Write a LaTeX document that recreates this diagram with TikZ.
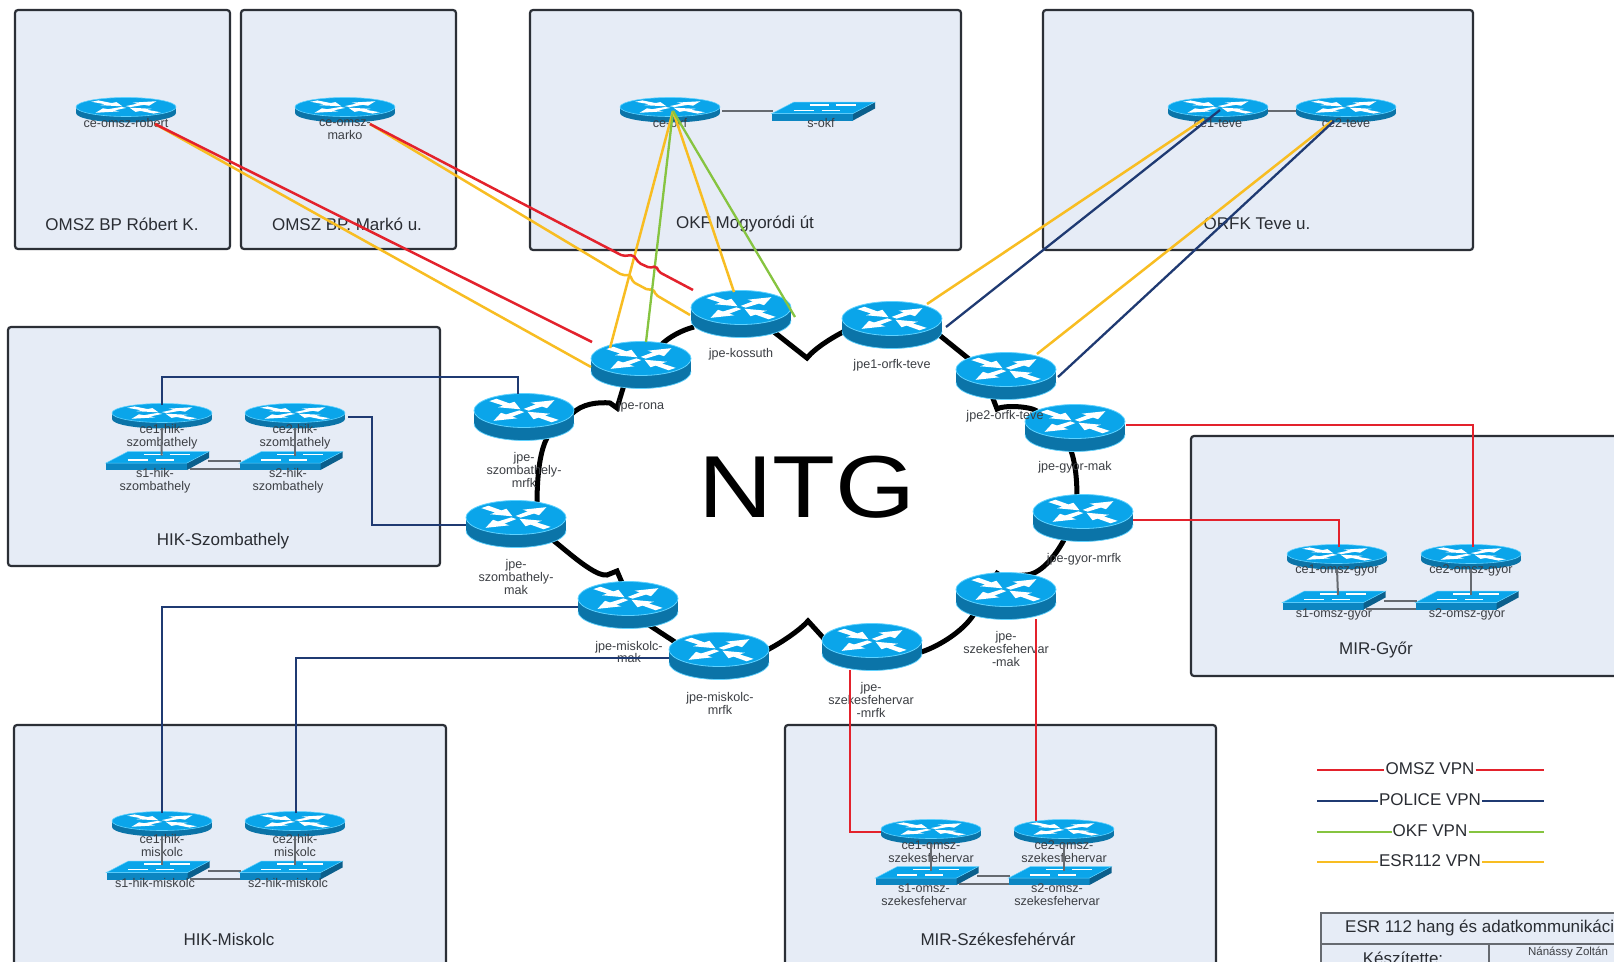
\documentclass[tikz,border=0pt]{standalone}
\usepackage{fontspec}
\usepackage{graphicx}
\setmainfont{Liberation Sans}
\definecolor{boxfill}{HTML}{E6ECF6}
\definecolor{boxline}{HTML}{2B2F36}
\definecolor{rtop}{HTML}{0AA5EA}
\definecolor{rside}{HTML}{0B74A8}
\definecolor{rrim}{HTML}{5FD2FF}
\definecolor{sside}{HTML}{0B5F8C}
\definecolor{sfront}{HTML}{0C86C2}
\definecolor{vred}{HTML}{E3222C}
\definecolor{vnavy}{HTML}{1F3A72}
\definecolor{vgreen}{HTML}{86C440}
\definecolor{vorange}{HTML}{F8BD22}
\definecolor{glink}{HTML}{666A70}
\definecolor{ltxt}{HTML}{3C3F44}
\definecolor{ttxt}{HTML}{2A2D33}
\newcommand{\rtarrows}{%
  \fill[white] (0.06,-0.07) -- (0.42,-0.09) -- (0.42,-0.23) -- (0.86,0) -- (0.42,0.23) -- (0.42,0.09) -- (0.06,0.07) -- cycle;}
\newcommand{\rtarrowsin}{%
  \fill[white] (0.88,-0.1) -- (0.5,-0.09) -- (0.5,-0.23) -- (0.1,0) -- (0.5,0.23) -- (0.5,0.09) -- (0.88,0.1) -- cycle;}
\newcommand{\rtallarrows}{%
  \begin{scope}[rotate=45]\rtarrows\end{scope}
  \begin{scope}[rotate=225]\rtarrows\end{scope}
  \begin{scope}[rotate=135]\rtarrowsin\end{scope}
  \begin{scope}[rotate=-45]\rtarrowsin\end{scope}}
\newcommand{\at}[3]{([shift={(#2,#3)}]#1.center)}
\tikzset{
  x=1pt,y=-1pt,
  bigbase/.style={minimum width=100pt,minimum height=47pt,inner sep=0pt},
  smallbase/.style={minimum width=100pt,minimum height=25pt,inner sep=0pt},
  swbase/.style={minimum width=103pt,minimum height=19pt,inner sep=0pt},
  bigrouter/.pic={
    \fill[rside] (0,6.5) ellipse [x radius=50,y radius=17];
    \fill[rside] (-50,-6.5) rectangle (50,6.5);
    \draw[rrim,line width=0.7pt] (-50,6.5) arc [start angle=180,end angle=0,x radius=50,y radius=17];
    \fill[rtop] (0,-6.5) ellipse [x radius=50,y radius=17];
    \draw[rrim,line width=0.8pt] (0,-6.5) ellipse [x radius=50,y radius=17];
    \begin{scope}[shift={(0,-6.5)},xscale=50,yscale=17]\rtallarrows\end{scope}
  },
  smallrouter/.pic={
    \fill[rside] (0,3) ellipse [x radius=50,y radius=9.5];
    \fill[rside] (-50,-3) rectangle (50,3);
    \fill[rtop] (0,-3) ellipse [x radius=50,y radius=9.5];
    \draw[rrim,line width=0.6pt] (0,-3) ellipse [x radius=50,y radius=9.5];
    \begin{scope}[shift={(0,-3)},xscale=50,yscale=9.5]\rtallarrows\end{scope}
  },
  switchicon/.pic={
    \fill[sfront] (-51.5,2.5) -- (29.5,2.5) -- (29.5,9.5) -- (-51.5,9.5) -- cycle;
    \fill[sside] (29.5,2.5) -- (51.5,-9) -- (51.5,-2.5) -- (29.5,9.5) -- cycle;
    \fill[rtop] (-51.5,2.5) -- (29.5,2.5) -- (51.5,-9) -- (-29.5,-9) -- cycle;
    \draw[rrim,line width=0.5pt] (-51.5,2.5) -- (29.5,2.5) -- (51.5,-9) -- (-29.5,-9) -- cycle;
    \draw[white,line width=1.5pt] (-14,-6) -- (5,-6) (12,-6) -- (32,-6) (-30,-0.5) -- (-10,-0.5) (-2,-0.5) -- (16,-0.5);
  },
  sitebox/.style={draw=boxline,fill=boxfill,line width=2.2pt,rounded corners=3pt},
  lbl/.style={font=\fontsize{12.6}{12.9}\selectfont,text=ltxt,align=center,inner sep=0pt},
  ttl/.style={font=\fontsize{17}{20}\selectfont,text=ttxt,inner sep=0pt},
  lgd/.style={font=\fontsize{17}{20}\selectfont,text=ttxt,inner sep=1pt},
  ring/.style={draw=black,line width=5pt},
  vpnred/.style={draw=vred,line width=2.5pt},
  vpnnavy/.style={draw=vnavy,line width=2.3pt},
  vpngreen/.style={draw=vgreen,line width=2.3pt},
  vpnorange/.style={draw=vorange,line width=2.5pt},
  graylink/.style={draw=glink,line width=2pt},
}
\begin{document}
\begin{tikzpicture}
\useasboundingbox (0,0) rectangle (1614,961);
\clip (0,0) rectangle (1614,961);
\fill[white] (0,0) rectangle (1614,961);
% site boxes
\node[sitebox,minimum width=215pt,minimum height=239pt] (bxrobert) at (122.5,129.5) {};
\node[sitebox,minimum width=215pt,minimum height=239pt] (bxmarko) at (348.5,129.5) {};
\node[sitebox,minimum width=431pt,minimum height=240pt] (bxokf) at (745.5,130) {};
\node[sitebox,minimum width=430pt,minimum height=240pt] (bxorfk) at (1258,130) {};
\node[sitebox,minimum width=432pt,minimum height=239pt] (bxhiksz) at (224,446.5) {};
\node[sitebox,minimum width=432pt,minimum height=240pt] (bxgyor) at (1407,556) {};
\node[sitebox,minimum width=432pt,minimum height=260pt] (bxhikmis) at (230,855) {};
\node[sitebox,minimum width=431pt,minimum height=260pt] (bxszek) at (1000.5,855) {};
% router and switch nodes
\node[bigbase] (kossuth) at (741,314) {};
\node[bigbase] (rona) at (641,365) {};
\node[bigbase] (szmrfk) at (524,417) {};
\node[bigbase] (szmak) at (516,524) {};
\node[bigbase] (mismak) at (628,605) {};
\node[bigbase] (mismrfk) at (719,656) {};
\node[bigbase] (szekmrfk) at (872,647) {};
\node[bigbase] (szekmak) at (1006,596) {};
\node[bigbase] (gymrfk) at (1083,518) {};
\node[bigbase] (gymak) at (1075,428) {};
\node[bigbase] (jpetwo) at (1006,376) {};
\node[bigbase] (jpeone) at (892,325) {};
\node[smallbase] (cerobert) at (126,110) {};
\node[smallbase] (cemarko) at (345,110) {};
\node[smallbase] (ceokf) at (670,110) {};
\node[swbase] (sokf) at (823.5,111) {};
\node[smallbase] (ceoneteve) at (1218,110) {};
\node[smallbase] (cetwoteve) at (1346,110) {};
\node[smallbase] (ceonesz) at (162,416) {};
\node[smallbase] (cetwosz) at (295,416) {};
\node[swbase] (sonesz) at (157.5,460.5) {};
\node[swbase] (stwosz) at (291,460.5) {};
\node[smallbase] (ceonemis) at (162,824) {};
\node[smallbase] (cetwomis) at (295,824) {};
\node[swbase] (sonemis) at (158,870) {};
\node[swbase] (stwomis) at (291,870) {};
\node[smallbase] (ceonegy) at (1337,557) {};
\node[smallbase] (cetwogy) at (1471,557) {};
\node[swbase] (sonegy) at (1334,600) {};
\node[swbase] (stwogy) at (1467,600) {};
\node[smallbase] (ceonesk) at (931,832) {};
\node[smallbase] (cetwosk) at (1064,832) {};
\node[swbase] (sonesk) at (927,875.5) {};
\node[swbase] (stwosk) at (1060,875.5) {};
% NTG ring
\draw[ring] \at{rona}{20}{-20} .. controls +(8,-8) and +(-12,3) .. \at{kossuth}{-47}{13};
\draw[ring] \at{kossuth}{33}{18} -- ++(33,26) .. controls +(8,-10) and +(-12,6) .. \at{jpeone}{-47}{6};
\draw[ring] \at{jpeone}{46}{9} -- \at{jpetwo}{-37}{-17};
\draw[ring] \at{jpetwo}{-14}{20} -- ++(5,13) .. controls +(6,-4) and +(-8,-5) .. \at{gymak}{-38}{-17};
\draw[ring] \at{gymak}{-5}{20} .. controls +(6,15) and +(0,-15) .. \at{gymrfk}{-6}{-20};
\draw[ring] \at{gymrfk}{-18}{20} .. controls +(-10,19) and +(15,0) .. \at{szekmak}{19}{-21} -- ++(-22,2) -- ++(-8,-5);
\draw[ring] \at{szekmak}{-32}{18} .. controls +(-11,18) and +(18,-5) .. \at{szekmrfk}{46}{6};
\draw[ring] \at{szekmrfk}{-44}{-4} -- ++(-20,-22) .. controls +(-8,9) and +(14,-7) .. \at{mismrfk}{48}{-6};
\draw[ring] \at{mismrfk}{-44}{-14} -- \at{mismak}{21}{20};
\draw[ring] \at{mismak}{-5}{-20} -- ++(-6,-14) -- ++(-10,4) .. controls +(-17,3) and +(-12,-20) .. \at{szmak}{34}{18};
\draw[ring] \at{szmak}{21}{-20} .. controls +(0,-29) and +(-7,13) .. \at{szmrfk}{23}{21};
\draw[ring] \at{szmrfk}{47}{-2} .. controls +(10,-12) and +(-10,-1) .. (610,403) -- (617,408) -- \at{rona}{-17}{20};
% icons
\foreach \n in {kossuth,rona,szmrfk,szmak,mismak,mismrfk,szekmrfk,szekmak,gymrfk,gymak,jpetwo,jpeone}
  \pic at (\n.center) {bigrouter};
\foreach \n in {cerobert,cemarko,ceokf,ceoneteve,cetwoteve,ceonesz,cetwosz,ceonemis,cetwomis,ceonegy,cetwogy,ceonesk,cetwosk}
  \pic at (\n.center) {smallrouter};
\foreach \n in {sokf,sonesz,stwosz,sonemis,stwomis,sonegy,stwogy,sonesk,stwosk}
  \pic at (\n.center) {switchicon};
% labels
\node[lbl] (lkossuth) at (741,354) {jpe-kossuth};
\node[lbl] (lrona) at (641,406) {jpe-rona};
\node[lbl] (lszmrfk) at (524,470) {jpe-\\szombathely-\\mrfk};
\node[lbl] (lszmak) at (516,577) {jpe-\\szombathely-\\mak};
\node[lbl] (lmismak) at (629,652) {jpe-miskolc-\\mak};
\node[lbl] (lmismrfk) at (720,703) {jpe-miskolc-\\mrfk};
\node[lbl] (lszekmrfk) at (871,700) {jpe-\\szekesfehervar\\-mrfk};
\node[lbl] (lszekmak) at (1006,649) {jpe-\\szekesfehervar\\-mak};
\node[lbl] (lgymrfk) at (1084,559) {jpe-gyor-mrfk};
\node[lbl] (lgymak) at (1075,467) {jpe-gyor-mak};
\node[lbl] (ljpetwo) at (1005,416) {jpe2-orfk-teve};
\node[lbl] (ljpeone) at (892,365) {jpe1-orfk-teve};
\node[lbl] (lcerobert) at (126,123) {ce-omsz-robert};
\node[lbl] (lcemarko) at (345,129.5) {ce-omsz-\\marko};
\node[lbl] (lceokf) at (670,123) {ce-okf};
\node[lbl] (lsokf) at (821,123) {s-okf};
\node[lbl] (lceoneteve) at (1218,123) {ce1-teve};
\node[lbl] (lcetwoteve) at (1346,123) {ce2-teve};
\node[lbl] (lceonesz) at (162,436.5) {ce1-hik-\\szombathely};
\node[lbl] (lcetwosz) at (295,436.5) {ce2-hik-\\szombathely};
\node[lbl] (lsonesz) at (155,480.5) {s1-hik-\\szombathely};
\node[lbl] (lstwosz) at (288,480.5) {s2-hik-\\szombathely};
\node[lbl] (lceonemis) at (162,845.5) {ce1-hik-\\miskolc};
\node[lbl] (lcetwomis) at (295,845.5) {ce2-hik-\\miskolc};
\node[lbl] (lsonemis) at (155,883) {s1-hik-miskolc};
\node[lbl] (lstwomis) at (288,883) {s2-hik-miskolc};
\node[lbl] (lceonegy) at (1337,570) {ce1-omsz-gyor};
\node[lbl] (lcetwogy) at (1471,570) {ce2-omsz-gyor};
\node[lbl] (lsonegy) at (1334,614) {s1-omsz-gyor};
\node[lbl] (lstwogy) at (1467,614) {s2-omsz-gyor};
\node[lbl] (lceonesk) at (931,851.5) {ce1-omsz-\\szekesfehervar};
\node[lbl] (lcetwosk) at (1064,851.5) {ce2-omsz-\\szekesfehervar};
\node[lbl] (lsonesk) at (924,894.5) {s1-omsz-\\szekesfehervar};
\node[lbl] (lstwosk) at (1057,894.5) {s2-omsz-\\szekesfehervar};
% titles
\node[ttl] (trobert) at (122,224) {OMSZ BP Róbert K.};
\node[ttl] (tmarko) at (347,224) {OMSZ BP. Markó u.};
\node[ttl] (tokf) at (745,224) {OKF Mogyoródi út};
\node[ttl] (torfk) at (1257,224) {ORFK Teve u.};
\node[ttl] (thiksz) at (223,541) {HIK-Szombathely};
\node[ttl] (tgyor) at (1376,650) {MIR-Győr};
\node[ttl] (thikmis) at (229,939) {HIK-Miskolc};
\node[ttl] (tszek) at (998,939) {MIR-Székesfehérvár};
\node[font=\fontsize{88}{88}\selectfont,text=black,inner sep=0pt] (ntg) at (807,487) {\scalebox{1.17}[1]{NTG}};
% gray links
\draw[graylink] \at{ceokf}{52}{1} -- \at{sokf}{-51}{0};
\draw[graylink] \at{ceoneteve}{50}{1} -- \at{cetwoteve}{-50}{1};
\foreach \a/\b in {ceonesz/sonesz,cetwosz/stwosz,ceonemis/sonemis,cetwomis/stwomis,ceonegy/sonegy,cetwogy/stwogy,ceonesk/sonesk,cetwosk/stwosk}
  \draw[graylink] \at{\a}{0}{12} -- \at{\b}{4}{-5};
\foreach \a/\b in {sonesz/stwosz,sonemis/stwomis,sonegy/stwogy,sonesk/stwosk}{
  \draw[graylink] \at{\a}{50}{0.5} -- \at{\b}{-50}{0.5};
  \draw[graylink] \at{\a}{32}{8.5} -- \at{\b}{-51}{8.5};
}
% VPN links: OMSZ Budapest
\draw[vpnorange] \at{cerobert}{29}{14} -- \at{rona}{-50}{2};
\draw[vpnred] \at{cerobert}{29}{14} -- \at{rona}{-49}{-23};
\draw[vpnorange,rounded corners=2pt] \at{cemarko}{25}{14} -- (622,275) -- (630,275) -- (633,282) -- (648,290) -- (653,289) -- (656,295) -- \at{kossuth}{-51}{1};
\draw[vpnorange] \at{ceokf}{3}{1} -- \at{rona}{-31}{-17};
\draw[vpngreen] \at{ceokf}{3}{1} -- \at{rona}{5}{-23};
\draw[vpnorange] \at{ceokf}{3}{1} -- \at{kossuth}{-7}{-22};
\draw[vpngreen] \at{ceokf}{3}{1} -- \at{kossuth}{54}{3};
\draw[vpnred,rounded corners=2pt] \at{cemarko}{25}{14} -- (623,256) -- (633,255) -- (637,260) -- (639,263) -- (650,268) -- (656,266) -- (659,272) -- \at{kossuth}{-48}{-24};
% ORFK
\draw[vpnorange] \at{ceoneteve}{-14}{9} -- \at{jpeone}{35}{-21};
\draw[vpnnavy] \at{ceoneteve}{2}{0} -- \at{jpeone}{54}{2};
\draw[vpnorange] \at{cetwoteve}{-14}{11} -- \at{jpetwo}{31}{-22};
\draw[vpnnavy] \at{cetwoteve}{-12}{11} -- \at{jpetwo}{52}{1};
% HIK
\draw[vpnnavy] \at{ceonesz}{0}{-11} |- (518,377) -- \at{szmrfk}{-6}{-23};
\draw[vpnnavy] \at{cetwosz}{53}{1} -| (372,525) -- \at{szmak}{-50}{1};
\draw[vpnnavy] \at{ceonemis}{0}{-11} |- \at{mismak}{-50}{2};
\draw[vpnnavy] \at{cetwomis}{1}{-11} |- \at{mismrfk}{-50}{2};
% MIR
\draw[vpnred] \at{gymak}{51}{-3} -| \at{cetwogy}{2}{-10};
\draw[vpnred] \at{gymrfk}{50}{2} -| \at{ceonegy}{2}{-10};
\draw[vpnred] \at{szekmrfk}{-22}{23} |- \at{ceonesk}{-50}{0};
\draw[vpnred] \at{szekmak}{30}{23} -- \at{cetwosk}{-28}{-11};
% legend
\coordinate (lgaone) at (1317,770); \coordinate (lgbone) at (1544,770);
\coordinate (lgatwo) at (1317,801); \coordinate (lgbtwo) at (1544,801);
\coordinate (lgathree) at (1317,832); \coordinate (lgbthree) at (1544,832);
\coordinate (lgafour) at (1317,862); \coordinate (lgbfour) at (1544,862);
\node[lgd] (lgomsz) at (1430,769) {OMSZ VPN};
\node[lgd] (lgpol) at (1430,800) {POLICE VPN};
\node[lgd] (lgokf) at (1430,831) {OKF VPN};
\node[lgd] (lgesr) at (1430,861) {ESR112 VPN};
\draw[vpnred] (lgaone) -- (lgaone -| lgomsz.west); \draw[vpnred] (lgbone -| lgomsz.east) -- (lgbone);
\draw[vpnnavy] (lgatwo) -- (lgatwo -| lgpol.west); \draw[vpnnavy] (lgbtwo -| lgpol.east) -- (lgbtwo);
\draw[vpngreen] (lgathree) -- (lgathree -| lgokf.west); \draw[vpngreen] (lgbthree -| lgokf.east) -- (lgbthree);
\draw[vpnorange] (lgafour) -- (lgafour -| lgesr.west); \draw[vpnorange] (lgbfour -| lgesr.east) -- (lgbfour);
% title block
\fill[boxfill] (1321,913) rectangle (1640,990);
\draw[draw=glink,line width=2pt] (1640,913) -- (1321,913) -- (1321,990) (1321,944) -- (1640,944) (1489,944) -- (1489,990);
\node[lgd,anchor=west,inner sep=0pt] (tbhead) at (1345,928) {ESR 112 hang és adatkommunikáci};
\node[ttl] (tbauthor) at (1403,958) {Készítette:};
\node[lbl,font=\fontsize{11.5}{13}\selectfont] (tbname) at (1568,952) {Nánássy Zoltán};
\end{tikzpicture}
\end{document}
